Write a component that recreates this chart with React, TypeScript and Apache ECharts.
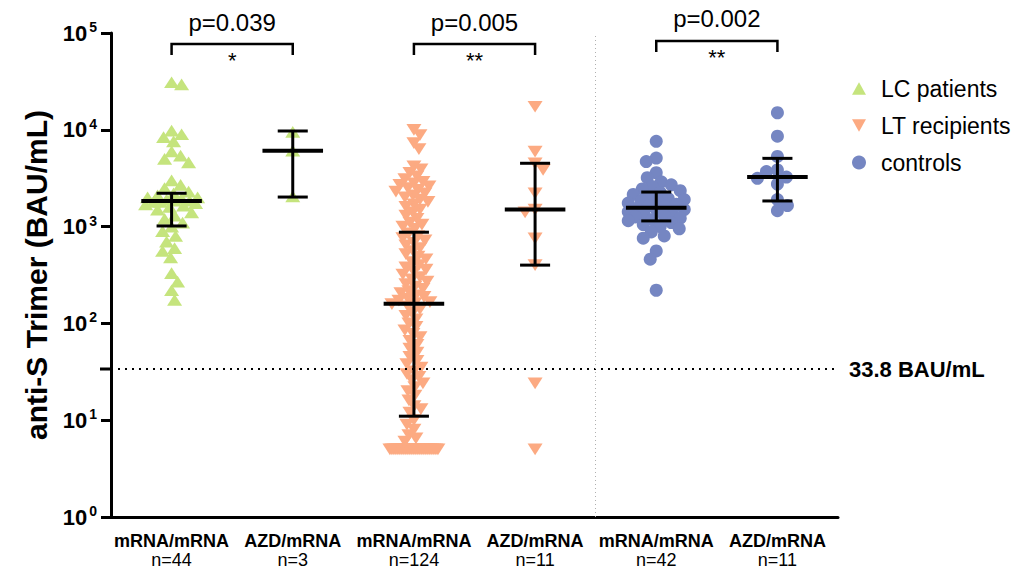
import React, { useEffect, useRef } from 'react';
import * as echarts from 'echarts';

const schemes = ['mRNA/mRNA', 'AZD/mRNA', 'mRNA/mRNA', 'AZD/mRNA', 'mRNA/mRNA', 'AZD/mRNA'];
const nLabels = ['n=44', 'n=3', 'n=124', 'n=11', 'n=42', 'n=11'];
const seriesNames = ['LC patients', 'LT recipients', 'controls'];

const lcMrna = [31000, 29500, 9800, 9000, 8400, 7600, 6000, 5400, 5000, 4600, 3000, 2700, 2500, 2300, 2200, 2100,
  2000, 2000, 1950, 1900, 1850, 1850, 1800, 1800, 1750, 1700, 1650, 1600, 1500, 1400, 1300, 1200, 1100, 1000,
  900, 800, 700, 600, 560, 480, 330, 270, 220, 175];
const lcAzd = [9500, 6100, 2050];
const ltMrna = [10000, 8800, 7300, 6300, 4200, 3900, 3600, 3300, 3100, 2900, 2800, 2700, 2600, 2500, 2400, 2300,
  2200, 2100, 2000, 1900, 1800, 1700, 1600, 1500, 1400, 1300, 1200, 1100, 1050, 1000, 950,
  850, 800, 760, 720, 680, 640, 600, 560, 520, 490, 460, 430, 400, 380, 360, 340, 320, 300, 285, 270, 255, 240,
  228, 215, 205, 195, 188, 180, 172, 166, 162,
  158, 150, 140, 130, 120, 110, 100, 92, 85, 78, 72, 66, 60, 55, 50, 45, 41, 38, 35, 32, 30, 28, 26, 24, 22, 20,
  18, 16, 14, 13, 12,
  10, 9, 8, 7, 6.5, 6, 5, 5, 5, 5, 5, 5, 5, 5, 5, 5, 5, 5, 5, 5, 5, 5, 5, 5, 5, 5, 5, 5, 5, 5, 5];
const ltAzd = [17300, 5950, 4500, 3850, 2210, 1500, 1400, 757, 400, 24, 5];
const ctrlMrna = [7600, 5100, 4700, 3600, 3200, 2900, 2700, 2600, 2450, 2350,
  2250, 2150, 2050, 1950, 1900, 1850, 1800, 1750, 1700, 1650, 1600,
  1540, 1500, 1450, 1420, 1380, 1350, 1300, 1260, 1220, 1180, 1150,
  1100, 1050, 1000, 950, 880, 800, 760, 560, 460, 220];
const ctrlAzd = [15000, 8600, 5300, 3850, 3700, 3250, 3150, 2750, 1900, 1650, 1460];

const medians = [1840, 6080, 160, 1500, 1570, 3250];
const q1s = [1015, 2020, 11, 400, 1145, 1840];
const q3s = [2210, 9720, 875, 4510, 2275, 5070];

const threshold = 33.8;
const thresholdLabel = '33.8 BAU/mL';
const pValues = ['p=0.039', 'p=0.005', 'p=0.002'];
const stars = ['*', '**', '**'];
const comparisons = [[0, 1], [2, 3], [4, 5]];

const FONT = 'Liberation Sans, Arial, sans-serif';
const colors = ['#c5e47d', '#fcaa82', '#7586c2'];
const symbols = ['path://M5,0 L10,9 L0,9 Z', 'path://M0,0 L10,0 L5,9 Z', 'circle'];
const symbolSizes: any[] = [[15, 13], [15, 13], 13];

const GRID = { left: 111, top: 33, width: 727, height: 484 };

function swarm(values: number[], pxY: number, pxX: number, d: number, maxHalf: number) {
  const order = values.map((_, i) => i).sort((a, b) => values[b] - values[a]);
  const placed: { x: number; y: number }[] = [];
  const offsets = new Array(values.length).fill(0);
  for (const i of order) {
    const y = Math.log10(values[i]) * pxY;
    let best = 0;
    let bestScore = -1;
    let done = false;
    for (let k = 0; k <= maxHalf && !done; k++) {
      const cands = k === 0 ? [0] : placed.length % 2 ? [k, -k] : [-k, k];
      for (const s of cands) {
        let minD = Infinity;
        for (const p of placed) {
          const dd = Math.hypot(p.x - s, p.y - y);
          if (dd < minD) minD = dd;
        }
        if (minD >= d) { best = s; done = true; break; }
        if (minD > bestScore) { bestScore = minD; best = s; }
      }
    }
    placed.push({ x: best, y });
    offsets[i] = best / pxX;
  }
  return offsets;
}

export default function App() {
  const ref = useRef<HTMLDivElement>(null);
  useEffect(() => {
    if (!ref.current) return;
    const chart = echarts.init(ref.current, undefined, { renderer: 'svg' });
    const pxX = GRID.width / 6;
    const pxY = GRID.height / 5;
    const groups = [lcMrna, lcAzd, ltMrna, ltAzd, ctrlMrna, ctrlAzd];
    const dists = [10, 10, 7.5, 10, 10, 11];
    const halfW = [26, 26, 26, 26, 28, 28];
    const pts = groups.map((vals, g) => {
      const offs = swarm(vals, pxY, pxX, dists[g], halfW[g]);
      return vals.map((v, i) => [g + offs[i], v]);
    });
    const seriesData = [pts[0].concat(pts[1]), pts[2].concat(pts[3]), pts[4].concat(pts[5])];

    const scatter = seriesNames.map((name, s) => {
      const base: any = {
        name,
        type: 'scatter',
        xAxisIndex: 1,
        yAxisIndex: 0,
        data: seriesData[s],
        symbol: symbols[s],
        symbolSize: symbolSizes[s],
        symbolKeepAspect: true,
        itemStyle: { color: colors[s], opacity: 1 },
        z: 2,
      };
      if (s === 1) {
        base.markLine = {
          silent: true,
          symbol: ['none', 'none'],
          data: [{ yAxis: threshold }],
          lineStyle: { type: [2, 5], color: '#000', width: 2 },
          label: {
            show: true, position: 'end', formatter: thresholdLabel, distance: 11,
            fontFamily: FONT, fontWeight: 'bold', fontSize: 22, color: '#000',
          },
        };
      }
      if (s === 2) {
        base.markLine = {
          silent: true,
          symbol: ['none', 'none'],
          data: [{ xAxis: 3.5 }],
          lineStyle: { type: [1, 3], color: '#b0b0b0', width: 1 },
          label: { show: false },
        };
      }
      return base;
    });

    const statsData = medians.map((m, i) => [i, m, q1s[i], q3s[i]]);
    const statsSeries: any = {
      type: 'custom',
      xAxisIndex: 1,
      yAxisIndex: 0,
      z: 5,
      silent: true,
      data: statsData,
      renderItem: (params: any, api: any) => {
        const x = api.value(0);
        const pm = api.coord([x, api.value(1)]);
        const pl = api.coord([x, api.value(2)]);
        const ph = api.coord([x, api.value(3)]);
        const unit = api.size([1, 0])[0];
        const mw = unit * 0.25;
        const cw = unit * 0.124;
        const st = { stroke: '#000', lineWidth: 3 };
        return {
          type: 'group',
          children: [
            { type: 'line', shape: { x1: pl[0], y1: pl[1], x2: ph[0], y2: ph[1] }, style: st },
            { type: 'line', shape: { x1: ph[0] - cw, y1: ph[1], x2: ph[0] + cw, y2: ph[1] }, style: st },
            { type: 'line', shape: { x1: pl[0] - cw, y1: pl[1], x2: pl[0] + cw, y2: pl[1] }, style: st },
            { type: 'line', shape: { x1: pm[0] - mw, y1: pm[1], x2: pm[0] + mw, y2: pm[1] }, style: { stroke: '#000', lineWidth: 4 } },
          ],
        };
      },
    };

    chart.setOption({
      animation: false,
      backgroundColor: '#fff',
      textStyle: { fontFamily: FONT },
      grid: { ...GRID },
      legend: {
        orient: 'vertical',
        left: 847,
        top: 72,
        itemWidth: 14,
        itemHeight: 14,
        itemGap: 14,
        data: seriesNames,
        textStyle: { fontFamily: FONT, fontSize: 23, color: '#000', padding: [0, 0, 0, 10] },
      },
      xAxis: [
        {
          type: 'category',
          data: schemes.map((_, i) => String(i)),
          boundaryGap: true,
          axisLine: { onZero: false, lineStyle: { color: '#000', width: 3 } },
          axisTick: { alignWithLabel: true, length: 9, lineStyle: { color: '#000', width: 3 } },
          axisLabel: {
            margin: 14,
            interval: 0,
            formatter: (_: string, i: number) => `{b|${schemes[i]}}\n{n|${nLabels[i]}}`,
            rich: {
              b: { fontFamily: FONT, fontSize: 18, fontWeight: 'bold', color: '#000', lineHeight: 19 },
              n: { fontFamily: FONT, fontSize: 18, color: '#000', lineHeight: 19 },
            },
          },
          splitLine: { show: false },
        },
        { type: 'value', min: -0.5, max: 5.5, show: false },
      ],
      yAxis: {
        type: 'log',
        logBase: 10,
        min: 1,
        max: 100000,
        name: 'anti-S Trimer (BAU/mL)',
        nameLocation: 'middle',
        nameGap: 58,
        nameTextStyle: { fontFamily: FONT, fontSize: 30, fontWeight: 'bold', color: '#000' },
        axisLine: { show: true, onZero: false, lineStyle: { color: '#000', width: 3 } },
        axisTick: { show: true, length: 10, lineStyle: { color: '#000', width: 3 } },
        minorTick: { show: false },
        splitLine: { show: false },
        axisLabel: {
          margin: 14,
          formatter: (v: number) => `{b|10}{s|${Math.round(Math.log10(v))}}`,
          rich: {
            b: { fontFamily: FONT, fontSize: 22, fontWeight: 'bold', color: '#000' },
            s: { fontFamily: FONT, fontSize: 14, fontWeight: 'bold', color: '#000', padding: [0, 0, 12, 2] },
          },
        },
      },
      series: [...scatter, statsSeries],
    });

    const graphics: any[] = [];
    const bracketY = [44, 44, 41];
    const pY = [22, 22, 18];
    comparisons.forEach(([a, b], k) => {
      const xa = chart.convertToPixel({ xAxisIndex: 1 }, a) as number;
      const xb = chart.convertToPixel({ xAxisIndex: 1 }, b) as number;
      const y = bracketY[k];
      graphics.push({
        type: 'polyline',
        shape: { points: [[xa, y + 11], [xa, y], [xb, y], [xb, y + 11]] },
        style: { stroke: '#000', lineWidth: 2.5, fill: 'none' },
      });
      graphics.push({
        type: 'text', x: (xa + xb) / 2, y: pY[k],
        style: { text: pValues[k], fontFamily: FONT, fontSize: 24, fill: '#000', align: 'center', verticalAlign: 'middle' },
      });
      graphics.push({
        type: 'text', x: (xa + xb) / 2, y: y + 16,
        style: { text: stars[k], fontFamily: FONT, fontSize: 22, fill: '#000', align: 'center', verticalAlign: 'middle' },
      });
    });
    const ty = chart.convertToPixel({ yAxisIndex: 0 }, threshold) as number;
    graphics.push({
      type: 'line',
      shape: { x1: GRID.left - 11, y1: ty, x2: GRID.left, y2: ty },
      style: { stroke: '#000', lineWidth: 3 },
    });
    chart.setOption({ graphic: graphics });

    return () => chart.dispose();
  }, []);
  return <div ref={ref} style={{ position: 'absolute', left: 0, top: 0, width: 1020, height: 569 }} />;
}
